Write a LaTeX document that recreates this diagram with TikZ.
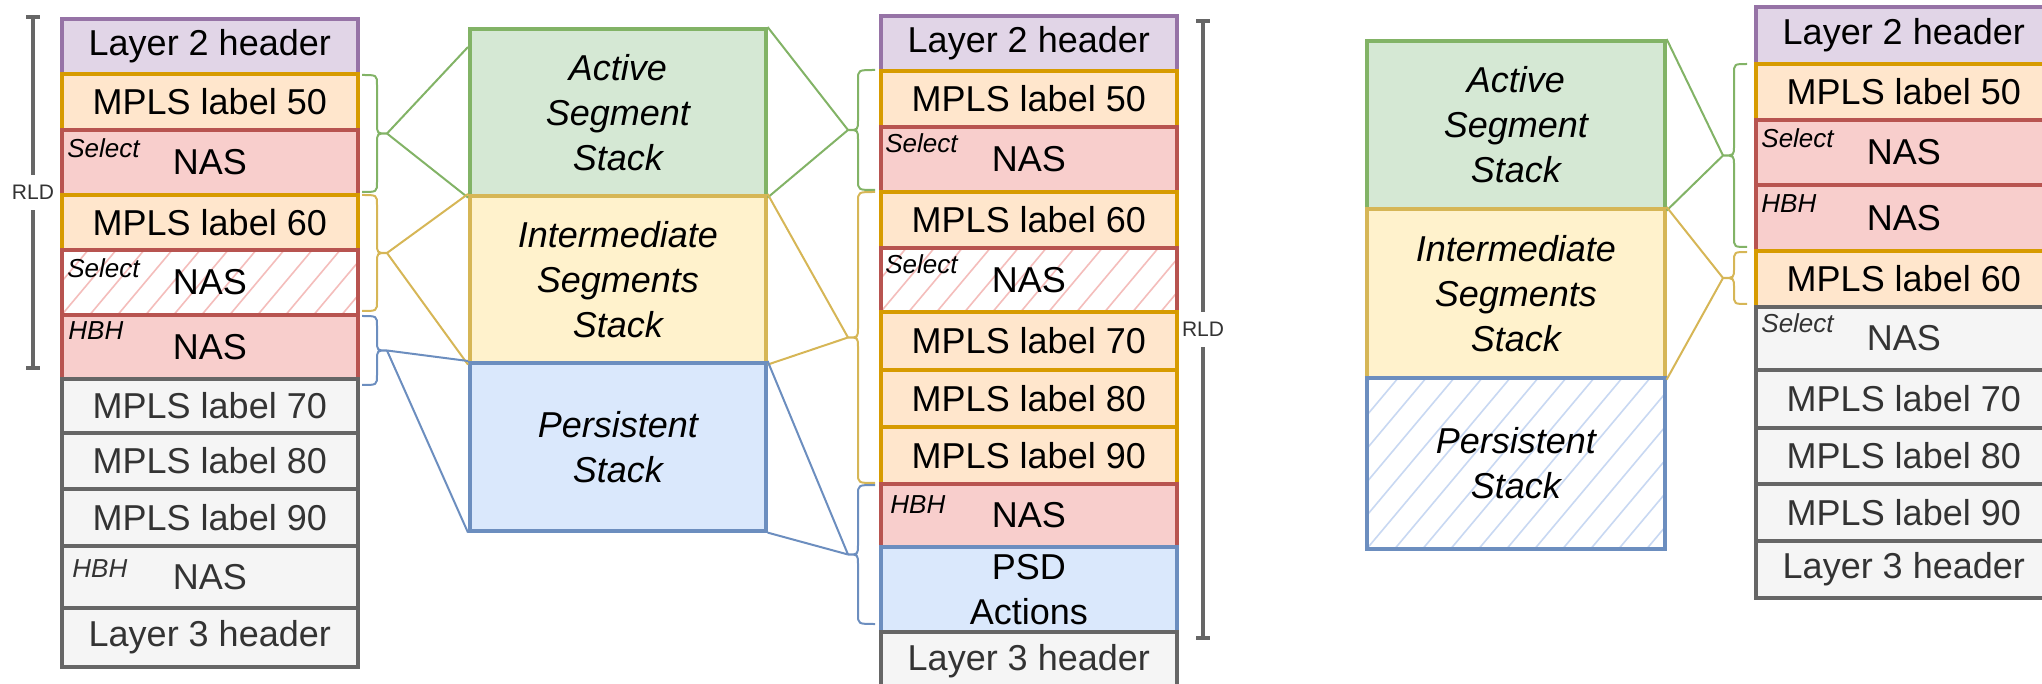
\documentclass[tikz,border=0pt]{standalone}
\usepackage{fontspec}
\setmainfont{Liberation Sans}
\usetikzlibrary{calc}

\definecolor{purpF}{HTML}{E1D5E7}\definecolor{purpD}{HTML}{9673A6}
\definecolor{orF}{HTML}{FFE6CC}\definecolor{orD}{HTML}{D79B00}
\definecolor{redF}{HTML}{F8CECC}\definecolor{redD}{HTML}{B85450}
\definecolor{grnF}{HTML}{D5E8D4}\definecolor{grnD}{HTML}{82B366}
\definecolor{yelF}{HTML}{FFF2CC}\definecolor{yelD}{HTML}{D6B656}
\definecolor{bluF}{HTML}{DAE8FC}\definecolor{bluD}{HTML}{6C8EBF}
\definecolor{gryF}{HTML}{F5F5F5}\definecolor{gryD}{HTML}{666666}
\definecolor{gryT}{HTML}{333333}
\definecolor{redH}{HTML}{F4BDBB}\definecolor{bluH}{HTML}{C8D8F2}

% curly bracket: colour, hook x, spine x, tip x, top y, bottom y, tip name
\newcommand\curlybr[7]{%
  \coordinate (#7) at (#4,{(#5+#6)/2});
  \draw[#1,line width=1pt]
    (#2,#5) .. controls (#3,#5) .. (#3,{#5+10})
    -- (#3,{(#5+#6)/2-10}) .. controls (#3,{(#5+#6)/2}) .. (#7)
    .. controls (#3,{(#5+#6)/2}) .. (#3,{(#5+#6)/2+10})
    -- (#3,{#6-10}) .. controls (#3,#6) .. (#2,#6);
}

\begin{document}
\begin{tikzpicture}[x=0.5pt,y=-0.5pt,
  cell/.style={draw,line width=1.8pt,minimum width=148pt,inner sep=0pt,
    anchor=north west,text=black,font=\fontsize{18}{22}\selectfont},
  ht/.style={minimum height=#1*0.5pt},
  purp/.style={cell,fill=purpF,draw=purpD},
  orng/.style={cell,fill=orF,draw=orD},
  redc/.style={cell,fill=redF,draw=redD},
  gryc/.style={cell,fill=gryF,draw=gryD,text=gryT},
  hatch/.style={path picture={
    \foreach \k in {-16,...,16}{
      \draw[#1,line width=0.8pt]
        ($(path picture bounding box.south west)+(\k*28,0)$) -- ++(50:300pt);}}},
  midbox/.style={cell,align=center,font=\itshape\fontsize{18}{22.5}\selectfont},
  tag/.style={anchor=base west,inner sep=0pt,font=\itshape\fontsize{13}{15}\selectfont},
  conn/.style={line width=1pt},
  rld/.style={draw=gryD,line width=1.8pt},
  rldlab/.style={fill=white,text=gryT,font=\fontsize{10.5}{12}\selectfont,
    inner xsep=1pt,inner ysep=5pt}
]
\useasboundingbox (0,0) rectangle (2042,684);
\clip (0,0) rectangle (2042,684);

% ---------- first label stack ----------
\node[purp,ht=55] (p1a) at (60,17)  {Layer 2 header};
\node[orng,ht=56] (p1b) at (60,72)  {MPLS label 50};
\node[redc,ht=65] (p1c) at (60,128) {NAS};
\node[orng,ht=55] (p1d) at (60,193) {MPLS label 60};
\node[redc,ht=65,fill=white,hatch=redH] (p1e) at (60,248) {NAS};
\node[redc,ht=64] (p1f) at (60,313) {NAS};
\node[gryc,ht=54] (p1g) at (60,377) {MPLS label 70};
\node[gryc,ht=56] (p1h) at (60,431) {MPLS label 80};
\node[gryc,ht=57] (p1i) at (60,487) {MPLS label 90};
\node[gryc,ht=62] (p1j) at (60,544) {NAS};
\node[gryc,ht=59] (p1k) at (60,606) {Layer 3 header};
\node[tag] (s1c) at ($(p1c.north west)+(7,30)$) {Select};
\node[tag] (s1e) at ($(p1e.north west)+(7,30)$) {Select};
\node[tag] (s1f) at ($(p1f.north west)+(8,27)$) {HBH};
\node[tag,text=gryT] (s1j) at ($(p1j.north west)+(12,33)$) {HBH};

% ---------- middle stack classes ----------
\node[midbox,fill=grnF,draw=grnD,ht=167] (act)   at (468,27)  {Active\\Segment\\Stack};
\node[midbox,fill=yelF,draw=yelD,ht=167] (inter) at (468,194) {Intermediate\\Segments\\Stack};
\node[midbox,fill=bluF,draw=bluD,ht=168] (pers)  at (468,361) {Persistent\\Stack};

% ---------- second label stack ----------
\node[purp,ht=55] (p2a) at (879,14)  {Layer 2 header};
\node[orng,ht=56] (p2b) at (879,69)  {MPLS label 50};
\node[redc,ht=65] (p2c) at (879,125) {NAS};
\node[orng,ht=56] (p2d) at (879,190) {MPLS label 60};
\node[redc,ht=64,fill=white,hatch=redH] (p2e) at (879,246) {NAS};
\node[orng,ht=58] (p2f) at (879,310) {MPLS label 70};
\node[orng,ht=57] (p2g) at (879,368) {MPLS label 80};
\node[orng,ht=57] (p2h) at (879,425) {MPLS label 90};
\node[redc,ht=63] (p2i) at (879,482) {NAS};
\node[cell,fill=bluF,draw=bluD,ht=85,align=center,
      font=\fontsize{18}{22.5}\selectfont] (p2j) at (879,545) {PSD\\Actions};
\node[gryc,ht=58] (p2k) at (879,630) {Layer 3 header};
\node[tag] (s2c) at ($(p2c.north west)+(6,28)$) {Select};
\node[tag] (s2e) at ($(p2e.north west)+(6,28)$) {Select};
\node[tag] (s2i) at ($(p2i.north west)+(11,31)$) {HBH};

% ---------- third panel: classes ----------
\node[midbox,fill=grnF,draw=grnD,ht=168,minimum width=149pt] (act3)   at (1365,39)  {Active\\Segment\\Stack};
\node[midbox,fill=yelF,draw=yelD,ht=169,minimum width=149pt] (inter3) at (1365,207) {Intermediate\\Segments\\Stack};
\node[midbox,fill=white,draw=bluD,hatch=bluH,ht=171,minimum width=149pt] (pers3) at (1365,376) {Persistent\\Stack};

% ---------- third label stack ----------
\node[purp,ht=57] (p3a) at (1754,5)   {Layer 2 header};
\node[orng,ht=56] (p3b) at (1754,62)  {MPLS label 50};
\node[redc,ht=65] (p3c) at (1754,118) {NAS};
\node[redc,ht=66] (p3d) at (1754,183) {NAS};
\node[orng,ht=56] (p3e) at (1754,249) {MPLS label 60};
\node[gryc,ht=63] (p3f) at (1754,305) {NAS};
\node[gryc,ht=58] (p3g) at (1754,368) {MPLS label 70};
\node[gryc,ht=56] (p3h) at (1754,426) {MPLS label 80};
\node[gryc,ht=57] (p3i) at (1754,482) {MPLS label 90};
\node[gryc,ht=57] (p3j) at (1754,539) {Layer 3 header};
\node[tag] (s3c) at ($(p3c.north west)+(7,30)$) {Select};
\node[tag] (s3d) at ($(p3d.north west)+(7,30)$) {HBH};
\node[tag,text=gryT] (s3f) at ($(p3f.north west)+(7,28)$) {Select};

% ---------- brackets ----------
\curlybr{grnD}{362}{377}{387}{75}{192}{t1g}
\curlybr{yelD}{362}{377}{387}{195}{311}{t1y}
\curlybr{bluD}{362}{377}{387}{316}{385}{t1b}
\curlybr{grnD}{875}{858}{848}{70}{190}{t2g}
\curlybr{yelD}{875}{858}{848}{192}{483}{t2y}
\curlybr{bluD}{875}{858}{848}{485}{624}{t2b}
\curlybr{grnD}{1747}{1734}{1723}{64}{247}{t3g}
\curlybr{yelD}{1747}{1734}{1723}{252}{304}{t3y}

% ---------- fan-out connectors ----------
\draw[conn,grnD] (t1g) -- ($(act.north west)+(0,20)$);
\draw[conn,grnD] (t1g) -- (act.south west);
\draw[conn,yelD] (t1y) -- (inter.north west);
\draw[conn,yelD] (t1y) -- (inter.south west);
\draw[conn,bluD] (t1b) -- (pers.north west);
\draw[conn,bluD] (t1b) -- (pers.south west);
\draw[conn,grnD] (act.north east) -- (t2g);
\draw[conn,grnD] (act.south east) -- (t2g);
\draw[conn,yelD] (inter.north east) -- (t2y);
\draw[conn,yelD] (inter.south east) -- (t2y);
\draw[conn,bluD] (pers.north east) -- (t2b);
\draw[conn,bluD] (pers.south east) -- (t2b);
\draw[conn,grnD] (act3.north east) -- (t3g);
\draw[conn,grnD] (act3.south east) -- (t3g);
\draw[conn,yelD] (inter3.north east) -- (t3y);
\draw[conn,yelD] (inter3.south east) -- (t3y);

% ---------- RLD extents ----------
\coordinate (r1t) at (33,17);  \coordinate (r1b) at (33,368);
\coordinate (r2t) at (1203,21); \coordinate (r2b) at (1203,638);
\draw[rld] (r1t) -- node[rldlab] (rl1) {RLD} (r1b);
\draw[rld] ($(r1t)+(-7,0)$) -- ($(r1t)+(7,0)$);
\draw[rld] ($(r1b)+(-7,0)$) -- ($(r1b)+(7,0)$);
\draw[rld] (r2t) -- node[rldlab] (rl2) {RLD} (r2b);
\draw[rld] ($(r2t)+(-7,0)$) -- ($(r2t)+(7,0)$);
\draw[rld] ($(r2b)+(-7,0)$) -- ($(r2b)+(7,0)$);
\end{tikzpicture}
\end{document}
